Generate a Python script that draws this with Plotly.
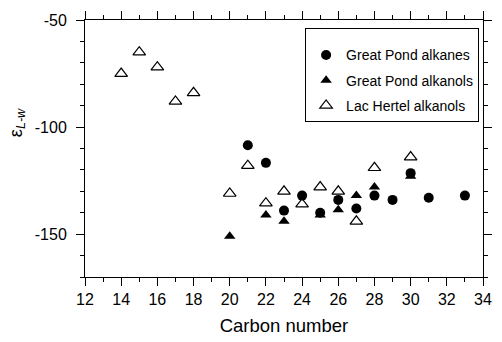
import plotly.graph_objects as go

# Great Pond alkanes (filled circles)
gp_alkanes_c = [21, 22, 23, 24, 25, 26, 27, 28, 29, 30, 31, 33]
gp_alkanes_v = [-108.5, -116.7, -139, -132, -140, -134, -138, -132, -134, -121.5, -133, -132]

# Great Pond alkanols (filled triangles)
gp_alkanols_c = [20, 22, 23, 25, 26, 27, 28, 30]
gp_alkanols_v = [-151, -141, -144, -141, -138.6, -132, -128, -123]

# Lac Hertel alkanols (open triangles)
lh_alkanols_c = [14, 15, 16, 17, 18, 20, 21, 22, 23, 24, 25, 26, 27, 28, 30]
lh_alkanols_v = [-75, -65, -72, -88, -84, -131, -118, -135.5, -130, -136, -128, -130, -144, -119, -114]

x_ticks = list(range(12, 35, 2))
y_ticks = [-150, -100, -50]

FONT = "Liberation Sans, Arial, Helvetica, sans-serif"

fig = go.Figure()
fig.add_trace(go.Scatter(
    x=gp_alkanes_c, y=gp_alkanes_v, mode="markers", name="Great Pond alkanes",
    legendgroup="a",
    marker=dict(symbol="circle", size=10, color="black", line=dict(width=0)),
))
fig.add_trace(go.Scatter(
    x=gp_alkanols_c, y=gp_alkanols_v, mode="markers", name="Great Pond alkanols",
    legendgroup="b",
    marker=dict(symbol="triangle-up", size=10, color="black", line=dict(width=0)),
))
fig.add_trace(go.Scatter(
    x=lh_alkanols_c, y=lh_alkanols_v, mode="markers", name="Lac Hertel alkanols",
    legendgroup="c",
    marker=dict(symbol="triangle-up-open", size=11, color="black", line=dict(width=1.2)),
))

axis_common = dict(
    showline=True, linecolor="black", linewidth=1, mirror="ticks",
    ticks="outside", ticklen=8, tickwidth=1, tickcolor="black",
    showgrid=False, zeroline=False,
    tickfont=dict(family=FONT, size=16, color="black"),
)

fig.update_xaxes(
    range=[12, 34], tickvals=x_ticks, ticktext=[str(v) for v in x_ticks],
    minor=dict(dtick=1, tick0=12, ticks="outside", ticklen=4, tickcolor="black", showgrid=False),
    title=dict(text="Carbon number", font=dict(family=FONT, size=18.5, color="black"), standoff=11),
    **axis_common,
)
fig.update_yaxes(
    range=[-170, -50], tickvals=y_ticks, ticktext=[str(v) for v in y_ticks],
    minor=dict(dtick=10, tick0=-50, ticks="outside", ticklen=4, tickcolor="black", showgrid=False),
    ticklabelstandoff=6,
    **axis_common,
)

fig.add_annotation(
    text="ε<sub><i>L-w</i></sub>", xref="paper", yref="paper",
    x=-0.17, y=0.6, xanchor="center", yanchor="middle", textangle=-90,
    showarrow=False, font=dict(family=FONT, size=18, color="black"),
)

fig.update_layout(
    width=502, height=342,
    margin=dict(l=85, r=10, t=20, b=60),
    paper_bgcolor="white", plot_bgcolor="white",
    showlegend=True,
    legend=dict(
        x=0.553, y=0.969, xanchor="left", yanchor="top",
        bordercolor="black", borderwidth=1, bgcolor="white",
        font=dict(family=FONT, size=14, color="black"),
        traceorder="grouped", tracegroupgap=4,
        title=dict(text=" ", font=dict(family=FONT, size=8)),
    ),
)

fig.write_html("out.html")
